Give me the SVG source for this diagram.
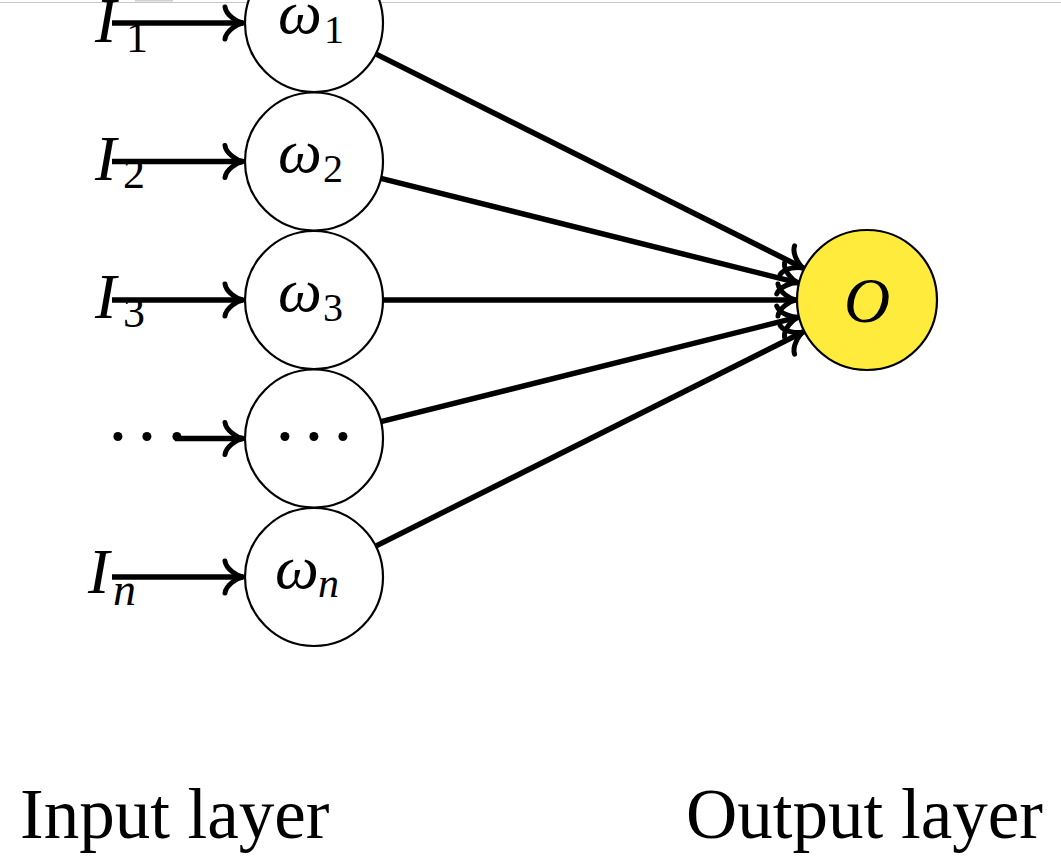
<svg xmlns="http://www.w3.org/2000/svg" width="1061" height="867" viewBox="0 0 1061 867">
<style>
.bg{fill:#fff}
.node{fill:#fff;stroke:#000;stroke-width:2.2}
.out{fill:#FFEB3B;stroke:#000;stroke-width:2.2}
.edge{stroke:#000;stroke-width:5.5;fill:none;marker-end:url(#arr)}
.m{font-family:"Liberation Serif","DejaVu Serif",serif;font-style:italic;fill:#000}
.r{font-family:"Liberation Serif","DejaVu Serif",serif;fill:#000}
.dots{font-family:"Liberation Serif","DejaVu Serif",serif;fill:#000;font-size:76px;text-anchor:middle}
</style>
<defs>
<marker id="arr" markerUnits="userSpaceOnUse" markerWidth="50" markerHeight="50" viewBox="-25 -25 50 50" refX="0" refY="0" orient="auto" overflow="visible">
<path d="M -18,-16 C -17,-8 -6,-1 0,0 C -6,1 -17,8 -18,16" fill="none" stroke="#000" stroke-width="5" stroke-linecap="round" stroke-linejoin="round"/>
</marker>
</defs>
<rect class="bg" x="0" y="0" width="1061" height="867"/>
<line x1="0" y1="2.5" x2="1061" y2="2.5" stroke="#c8c8c8" stroke-width="1"/>
<rect x="135" y="0" width="38" height="1.5" fill="#d0d0d0"/>

<g id="input-labels">
<text class="m" x="95" y="42" font-size="64">I<tspan font-size="44" x="126" y="52" font-style="normal">1</tspan></text>
<text class="m" x="95" y="180" font-size="64">I<tspan font-size="44" x="123" y="188" font-style="normal">2</tspan></text>
<text class="m" x="95" y="318" font-size="64">I<tspan font-size="44" x="123" y="327" font-style="normal">3</tspan></text>
<text class="dots" y="462"><tspan x="118">·</tspan><tspan x="147">·</tspan><tspan x="177">·</tspan></text>
<text class="m" x="88" y="593" font-size="64">I<tspan font-size="46" x="113" y="605">n</tspan></text>
</g>

<g id="connectors">
<line class="edge" x1="112" y1="23" x2="243" y2="23"/>
<line class="edge" x1="112" y1="161.5" x2="243" y2="161.5"/>
<line class="edge" x1="112" y1="300" x2="243" y2="300"/>
<line class="edge" x1="175" y1="438.5" x2="243" y2="438.5"/>
<line class="edge" x1="112" y1="577" x2="243" y2="577"/>
<line class="edge" x1="375.7" y1="53.9" x2="803.5" y2="268.2"/>
<line class="edge" x1="380.9" y1="178.3" x2="798.1" y2="282.8"/>
<line class="edge" x1="383" y1="300" x2="796" y2="300"/>
<line class="edge" x1="380.9" y1="421.7" x2="798.1" y2="317.2"/>
<line class="edge" x1="375.7" y1="546.1" x2="803.5" y2="331.8"/>
</g>

<g id="w1"><circle class="node" cx="314" cy="23" r="69"/>
<text class="m" x="278" y="33" font-size="62">ω<tspan font-size="40" x="324" y="43" font-style="normal">1</tspan></text></g>
<g id="w2"><circle class="node" cx="314" cy="161.5" r="69"/>
<text class="m" x="278" y="172" font-size="62">ω<tspan font-size="40" x="323" y="182" font-style="normal">2</tspan></text></g>
<g id="w3"><circle class="node" cx="314" cy="300" r="69"/>
<text class="m" x="278" y="311" font-size="62">ω<tspan font-size="40" x="323" y="321" font-style="normal">3</tspan></text></g>
<g id="wdots"><circle class="node" cx="314" cy="438.5" r="69"/>
<text class="dots" y="462"><tspan x="285">·</tspan><tspan x="314">·</tspan><tspan x="343">·</tspan></text></g>
<g id="wn"><circle class="node" cx="314" cy="577" r="69"/>
<text class="m" x="275" y="588" font-size="62">ω<tspan font-size="42" x="318" y="597">n</tspan></text></g>
<g id="O"><circle class="out" cx="867" cy="300" r="70"/>
<text class="m" x="867" y="322" font-size="64" text-anchor="middle">O</text></g>

<g id="layer-labels">
<text class="r" x="20" y="838" font-size="71">Input layer</text>
<text class="r" x="686" y="838" font-size="71">Output layer</text>
</g>
</svg>
